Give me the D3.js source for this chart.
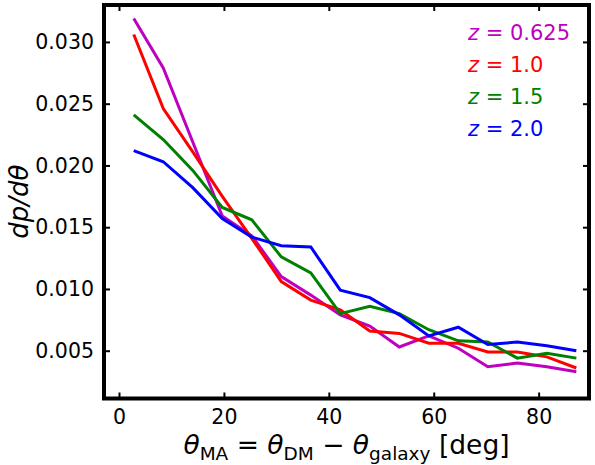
<!DOCTYPE html>
<html><head><meta charset="utf-8">
<script src="https://cdn.jsdelivr.net/npm/d3@7"></script>
<style>body{margin:0;background:#fff}svg{display:block;font-family:"DejaVu Sans",sans-serif}</style>
</head><body>
<script>
// bin centers (16 bins over 0..90 deg)
const binCenters = [2.8125, 8.4375, 14.0625, 19.6875, 25.3125, 30.9375, 36.5625, 42.1875, 47.8125, 53.4375, 59.0625, 64.6875, 70.3125, 75.9375, 81.5625, 87.1875];
const z0625 = [0.0319, 0.0279, 0.0219, 0.0159, 0.0143, 0.0110, 0.0095, 0.0079, 0.0070, 0.0053, 0.0062, 0.0052, 0.0037, 0.0040, 0.0037, 0.0033];
const z10   = [0.0306, 0.0246, 0.0211, 0.0175, 0.0141, 0.0106, 0.0091, 0.0083, 0.0066, 0.0064, 0.0056, 0.0056, 0.0049, 0.0049, 0.0045, 0.0036];
const z15   = [0.0241, 0.0221, 0.0196, 0.0166, 0.0156, 0.0126, 0.0113, 0.0080, 0.0086, 0.0080, 0.0067, 0.0058, 0.0057, 0.0044, 0.0048, 0.0044];
const z20   = [0.0212, 0.0203, 0.0182, 0.0157, 0.0142, 0.0135, 0.0134, 0.0099, 0.0093, 0.0079, 0.0062, 0.0069, 0.0055, 0.0057, 0.0054, 0.0050];
const seriesLabels = ["0.625", "1.0", "1.5", "2.0"];
const seriesColors = ["#bf00bf", "#ff0000", "#008000", "#0000ff"];
const xTicks = [0, 20, 40, 60, 80];
const yTicks = [0.005, 0.010, 0.015, 0.020, 0.025, 0.030];

const W = 595, H = 465;
const L = 104, R = 589, T = 5, B = 398.5;
const svg = d3.select("body").append("svg").attr("width", W).attr("height", H);
const x = d3.scaleLinear().domain([-2.86, 89.6]).range([L, R]);
const y = d3.scaleLinear().domain([0.00113, 0.03299]).range([B, T]);

const allSeries = [z0625, z10, z15, z20];
const line = d3.line().x((d, i) => x(binCenters[i])).y(d => y(d));
const g = svg.append("g");
allSeries.forEach((s, k) => {
  g.append("path").datum(s).attr("d", line).attr("fill", "none")
    .attr("stroke", seriesColors[k]).attr("stroke-width", 3).attr("stroke-linejoin", "miter");
});

// axes with inward ticks
const fmt = d3.format(".3f");
const ax = svg.append("g").attr("transform", `translate(0,${B})`)
  .call(d3.axisBottom(x).tickValues(xTicks).tickSizeInner(-6).tickSizeOuter(0).tickPadding(11));
const axT = svg.append("g").attr("transform", `translate(0,${T})`)
  .call(d3.axisTop(x).tickValues(xTicks).tickSizeInner(-6).tickSizeOuter(0).tickFormat(""));
const ay = svg.append("g").attr("transform", `translate(${L},0)`)
  .call(d3.axisLeft(y).tickValues(yTicks).tickSizeInner(-6).tickSizeOuter(0).tickPadding(10).tickFormat(fmt));
const ayR = svg.append("g").attr("transform", `translate(${R},0)`)
  .call(d3.axisRight(y).tickValues(yTicks).tickSizeInner(-6).tickSizeOuter(0).tickFormat(""));
[ax, axT, ay, ayR].forEach(a => {
  a.select(".domain").remove();
  a.selectAll(".tick line").attr("stroke", "#000").attr("stroke-width", 2);
  a.selectAll(".tick text").attr("font-size", 20.5).attr("fill", "#000").attr("font-family", "DejaVu Sans");
});
ax.selectAll(".tick text").attr("dy", "0.71em");

// frame
svg.append("rect").attr("x", L).attr("y", T).attr("width", R - L).attr("height", B - T)
  .attr("fill", "none").attr("stroke", "#000").attr("stroke-width", 4);

// x label
const xl = svg.append("text").attr("x", (L + R) / 2).attr("y", 454).attr("text-anchor", "middle")
  .attr("font-size", 26.5).attr("fill", "#000");
xl.append("tspan").attr("font-style", "italic").text("θ");
xl.append("tspan").attr("font-size", 18.5).attr("dy", 6).text("MA");
xl.append("tspan").attr("dy", -6).text(" = ");
xl.append("tspan").attr("font-style", "italic").text("θ");
xl.append("tspan").attr("font-size", 18.5).attr("dy", 6).text("DM");
xl.append("tspan").attr("dy", -6).text(" − ");
xl.append("tspan").attr("font-style", "italic").text("θ");
xl.append("tspan").attr("font-size", 18.5).attr("dy", 6).text("galaxy");
xl.append("tspan").attr("dy", -6).text(" [deg]");

// y label
svg.append("text").attr("transform", `translate(28,${(T + B) / 2}) rotate(-90)`)
  .attr("text-anchor", "middle").attr("font-size", 26).attr("font-style", "italic").attr("fill", "#000")
  .text("dp/dθ");

// legend texts
seriesLabels.forEach((lab, k) => {
  const t = svg.append("text").attr("x", 468).attr("y", 40 + k * 32)
    .attr("font-size", 21).attr("fill", seriesColors[k]);
  t.append("tspan").attr("font-style", "italic").text("z");
  t.append("tspan").text(" = " + lab);
});
</script>
</body></html>
